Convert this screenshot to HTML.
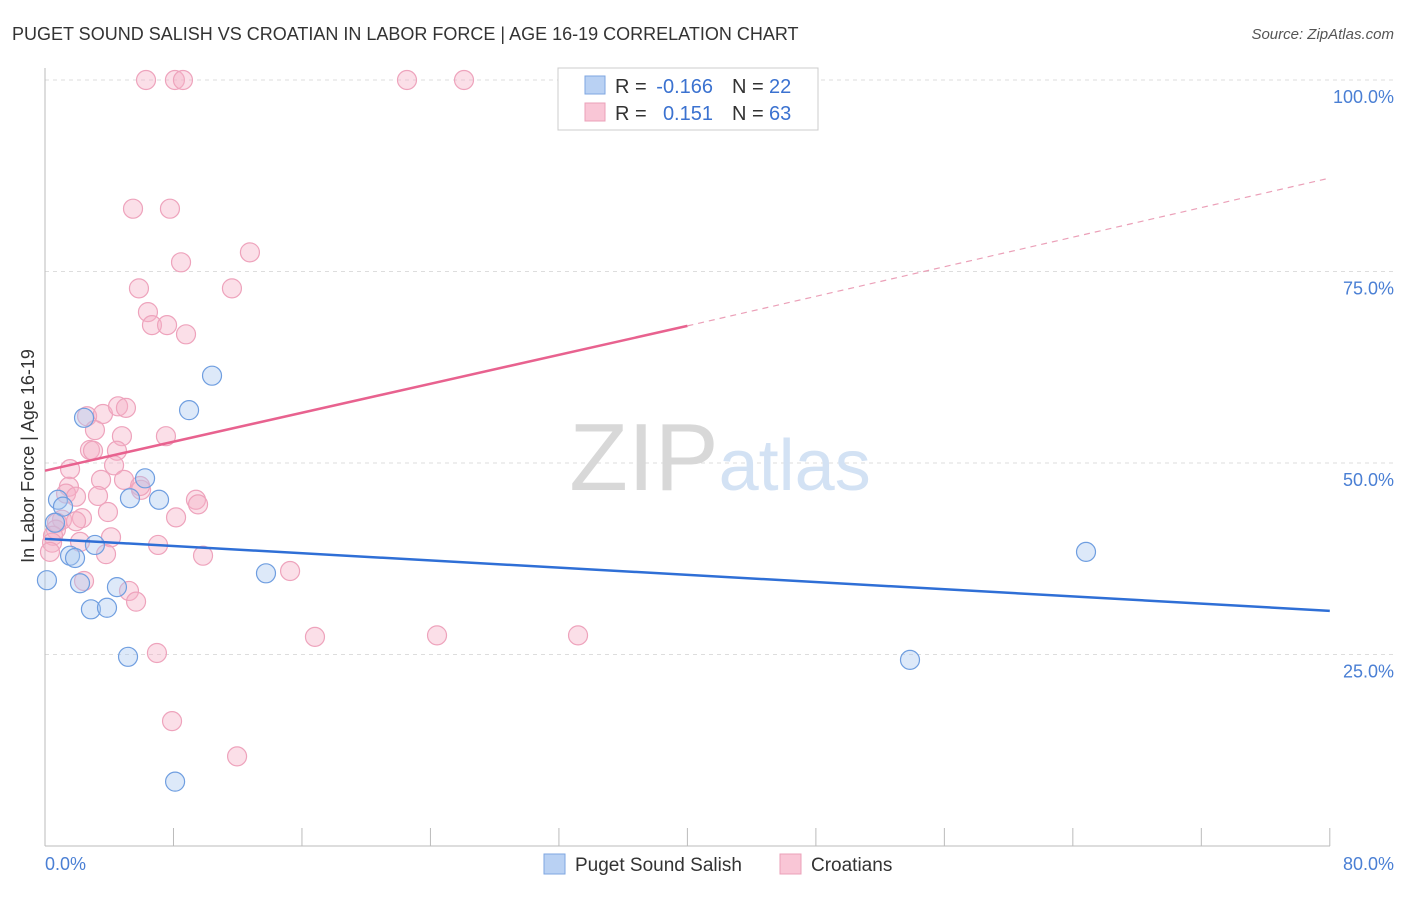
<!DOCTYPE html>
<html><head><meta charset="utf-8"><style>
body{margin:0;background:#fff;font-family:"Liberation Sans",sans-serif;}
svg text{font-family:"Liberation Sans",sans-serif;}
</style></head><body>
<svg width="1406" height="892">
<text x="12" y="40" font-size="18" fill="#333">PUGET SOUND SALISH VS CROATIAN IN LABOR FORCE | AGE 16-19 CORRELATION CHART</text>
<text x="1394" y="39" font-size="15" fill="#555" text-anchor="end" font-style="italic">Source: ZipAtlas.com</text>
<g id="grid"></g>
<line x1="45" y1="68" x2="45" y2="846" stroke="#bbb"/>
<line x1="45" y1="846" x2="1330" y2="846" stroke="#bbb"/>
<g id="xticks"></g>
<g id="ylabels"></g>
<text x="45" y="870" font-size="18" fill="#4a7fd4">0.0%</text>
<text x="1394" y="870" font-size="18" fill="#4a7fd4" text-anchor="end">80.0%</text>
<text transform="translate(34,456) rotate(-90)" font-size="18" fill="#333" text-anchor="middle">In Labor Force | Age 16-19</text>
<text x="720" y="490" font-size="96" fill="#e4e4e4" text-anchor="middle" font-family="Liberation Serif"><tspan fill="#d8d8d8">ZIP</tspan><tspan fill="#d3e2f4" font-family="Liberation Sans" font-size="72">atlas</tspan></text>
<g id="pts"></g>
<g id="trends"></g>
<g>
<rect x="558" y="68" width="260" height="62" fill="#fff" stroke="#ccc"/>
<rect x="585" y="76" width="20" height="18" fill="#b9d1f3" stroke="#7ea6e0"/>
<rect x="585" y="103" width="20" height="18" fill="#f9c6d6" stroke="#eba0b8"/>
<text x="615" y="93" font-size="20" fill="#333">R =</text>
<text x="713" y="93" font-size="20" fill="#3b72d0" text-anchor="end">-0.166</text>
<text x="732" y="93" font-size="20" fill="#333">N =</text>
<text x="769" y="93" font-size="20" fill="#3b72d0">22</text>
<text x="615" y="120" font-size="20" fill="#333">R =</text>
<text x="713" y="120" font-size="20" fill="#3b72d0" text-anchor="end">0.151</text>
<text x="732" y="120" font-size="20" fill="#333">N =</text>
<text x="769" y="120" font-size="20" fill="#3b72d0">63</text>
</g>
<g>
<rect x="544" y="854" width="21" height="20" fill="#b9d1f3" stroke="#7ea6e0"/>
<text x="575" y="871" font-size="19" fill="#333">Puget Sound Salish</text>
<rect x="780" y="854" width="21" height="20" fill="#f9c6d6" stroke="#eba0b8"/>
<text x="811" y="871" font-size="19" fill="#333">Croatians</text>
</g>
</svg>
<script>
const blueX=[0.12,0.81,1.12,0.62,1.56,1.87,2.18,2.43,2.86,3.11,3.86,4.48,5.17,5.29,6.23,7.1,8.1,8.97,10.4,13.76,53.86,64.82];
const blueY=[34.7,45.2,44.3,42.2,37.9,37.6,34.3,55.9,30.9,39.3,31.1,33.8,24.7,45.4,48.0,45.2,8.4,56.9,61.4,35.6,24.3,38.4];
const pinkX=[6.29,8.09,8.59,22.54,26.09,5.48,7.78,12.76,8.47,5.85,11.64,6.41,6.66,7.6,8.78,2.62,3.61,4.55,5.04,3.11,4.79,7.53,2.8,2.99,4.48,4.3,1.56,4.92,3.49,1.49,1.31,1.93,3.3,5.98,5.92,9.4,9.53,1.06,0.75,3.92,2.3,1.93,8.16,0.68,0.5,2.18,4.11,7.04,0.44,0.31,3.8,9.84,15.26,2.43,5.23,5.67,16.81,24.41,33.19,6.97,7.91,11.96];
const pinkY=[100,100,100,100,100,83.2,83.2,77.5,76.2,72.8,72.8,69.7,68.0,68.0,66.8,56.1,56.4,57.4,57.2,54.3,53.5,53.5,51.7,51.6,51.6,49.7,49.2,47.8,47.8,46.9,46.0,45.6,45.7,46.5,47.0,45.2,44.6,42.6,42.2,43.6,42.8,42.4,42.9,41.3,40.5,39.7,40.3,39.3,39.6,38.4,38.1,37.9,35.9,34.6,33.3,31.9,27.3,27.5,27.5,25.2,16.3,11.7];
const blueTrend=[0,40.1,80,30.7];
const pinkTrend=[0,49.0,40,67.9,80,87.2];
const yTicks=[25,50,75,100];
const xTicks=[0,8,16,24,32,40,48,56,64,72,80];
const NS='http://www.w3.org/2000/svg';
const sx=v=>45+v*16.06, sy=v=>846-v*7.66;
function mk(t,a,p){const e=document.createElementNS(NS,t);for(const k in a)e.setAttribute(k,a[k]);p.appendChild(e);return e;}
const grid=document.getElementById('grid'),yl=document.getElementById('ylabels'),xt=document.getElementById('xticks');
yTicks.forEach(v=>{
 const l=mk('line',{x1:45,x2:1394,y1:sy(v),y2:sy(v),stroke:'#ddd','stroke-dasharray':'4,4'},grid);
 
 
 const t=mk('text',{x:1394,y:sy(v)+23,'font-size':18,fill:'#4a7fd4','text-anchor':'end'},yl);
 t.textContent=v.toFixed(1)+'%';
 
 
});
xTicks.forEach(v=>{
 const l=mk('line',{x1:sx(v),x2:sx(v),y1:828,y2:846,stroke:'#bbb'},xt);
 
 
});
const pts=document.getElementById('pts');
pinkX.forEach((x,i)=>{
 const c=mk('circle',{cx:sx(x),cy:sy(pinkY[i]),r:9.5,fill:'rgba(246,175,198,0.4)',stroke:'#eea3bc','stroke-width':1.2},pts);
 
 
});
blueX.forEach((x,i)=>{
 const c=mk('circle',{cx:sx(x),cy:sy(blueY[i]),r:9.5,fill:'rgba(170,200,240,0.4)',stroke:'#6f9ee0','stroke-width':1.2},pts);
 
 
});
const tr=document.getElementById('trends');
const b=mk('line',{x1:sx(blueTrend[0]),y1:sy(blueTrend[1]),x2:sx(blueTrend[2]),y2:sy(blueTrend[3]),stroke:'#2f6fd6','stroke-width':2.5},tr);


const p1=mk('line',{x1:sx(pinkTrend[0]),y1:sy(pinkTrend[1]),x2:sx(pinkTrend[2]),y2:sy(pinkTrend[3]),stroke:'#e8628f','stroke-width':2.5},tr);


const p2=mk('line',{x1:sx(pinkTrend[2]),y1:sy(pinkTrend[3]),x2:sx(pinkTrend[4]),y2:sy(pinkTrend[5]),stroke:'#eba0b8','stroke-width':1.2,'stroke-dasharray':'6,5'},tr);


</script>
</body></html>
